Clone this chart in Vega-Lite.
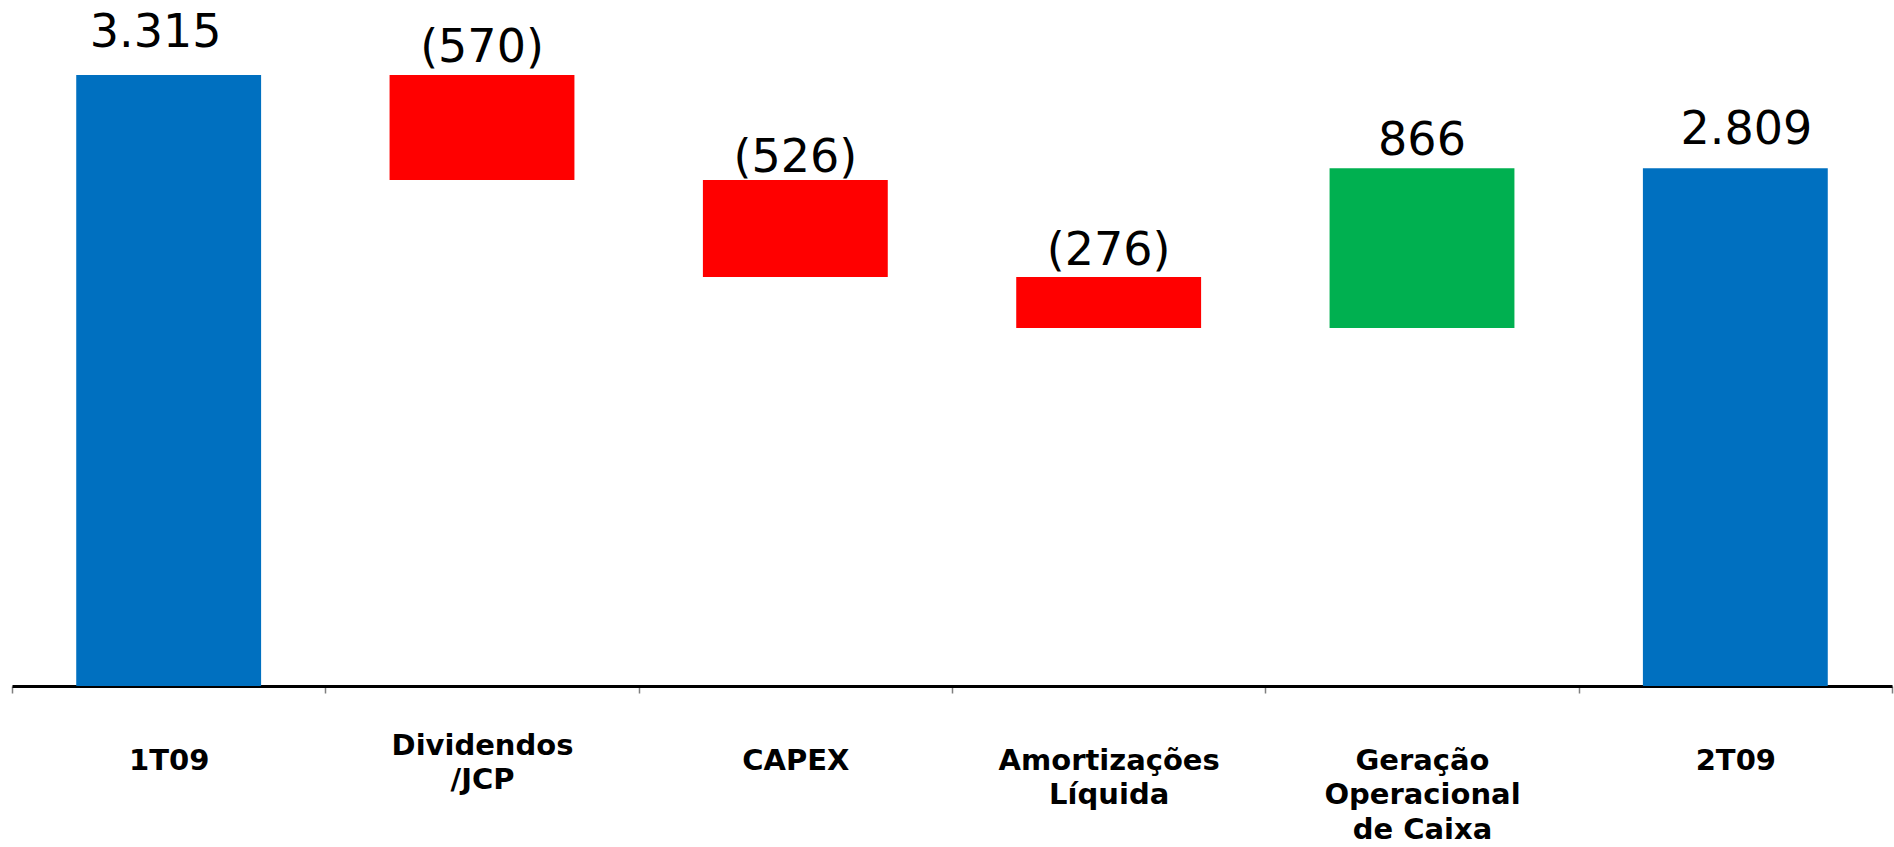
{
  "$schema": "https://vega.github.io/schema/vega-lite/v6.json",
  "width": 1880,
  "height": 686,
  "autosize": {"type": "none"},
  "padding": {"left": 12, "top": 0, "right": 2, "bottom": 161},
  "background": "white",
  "config": {"view": {"stroke": null}},
  "data": {
    "values": [
      {"cat": "1T09", "low": 0, "high": 3315, "label": "3.315", "kind": "total"},
      {"cat": "Dividendos\n/JCP", "low": 2745, "high": 3315, "label": "(570)", "kind": "neg"},
      {"cat": "CAPEX", "low": 2219, "high": 2745, "label": "(526)", "kind": "neg"},
      {"cat": "Amortizações\nLíquida", "low": 1943, "high": 2219, "label": "(276)", "kind": "neg"},
      {"cat": "Geração\nOperacional\nde Caixa", "low": 1943, "high": 2809, "label": "866", "kind": "pos"},
      {"cat": "2T09", "low": 0, "high": 2809, "label": "2.809", "kind": "total"}
    ]
  },
  "encoding": {
    "x": {
      "field": "cat",
      "type": "nominal",
      "sort": null,
      "scale": {"paddingInner": 0, "paddingOuter": 0},
      "axis": {
        "title": null,
        "tickBand": "extent",
        "domainColor": "#000000",
        "domainWidth": 3,
        "tickColor": "#7f7f7f",
        "tickWidth": 1.5,
        "tickSize": 7,
        "labelAngle": 0,
        "labelPadding": {"condition": {"test": "indexof(datum.value || '', 'Dividendos') == 0", "value": 38}, "value": 53},
        "labelBaseline": "top",
        "labelFont": "DejaVu Sans",
        "labelFontWeight": "bold",
        "labelFontSize": 29,
        "labelColor": "#000000",
        "labelLineHeight": 34.5,
        "labelLimit": 0,
        "labelOverlap": false,
        "labelExpr": "datum.value ? split(datum.value, '\\n') : ''"
      }
    }
  },
  "layer": [
    {
      "mark": {"type": "bar", "width": {"band": 0.59}},
      "encoding": {
        "y": {"field": "low", "type": "quantitative", "scale": {"domain": [0, 3722], "nice": false, "zero": true}, "axis": null},
        "y2": {"field": "high"},
        "color": {
          "field": "kind",
          "type": "nominal",
          "scale": {"domain": ["total", "neg", "pos"], "range": ["#0070C0", "#FF0000", "#00B050"]},
          "legend": null
        }
      }
    },
    {
      "mark": {
        "type": "text",
        "font": "DejaVu Sans",
        "fontSize": 46,
        "color": "#000000",
        "baseline": "alphabetic",
        "dx": {"expr": "datum.label == '3.315' ? -13 : datum.label == '2.809' ? 11 : 0"},
        "dy": {"expr": "datum.label == '3.315' ? -28 : datum.label == '2.809' ? -24 : datum.label == '(526)' ? -8 : datum.label == '(276)' ? -12 : -13"}
      },
      "encoding": {
        "y": {"field": "high", "type": "quantitative"},
        "text": {"field": "label"}
      }
    }
  ]
}
